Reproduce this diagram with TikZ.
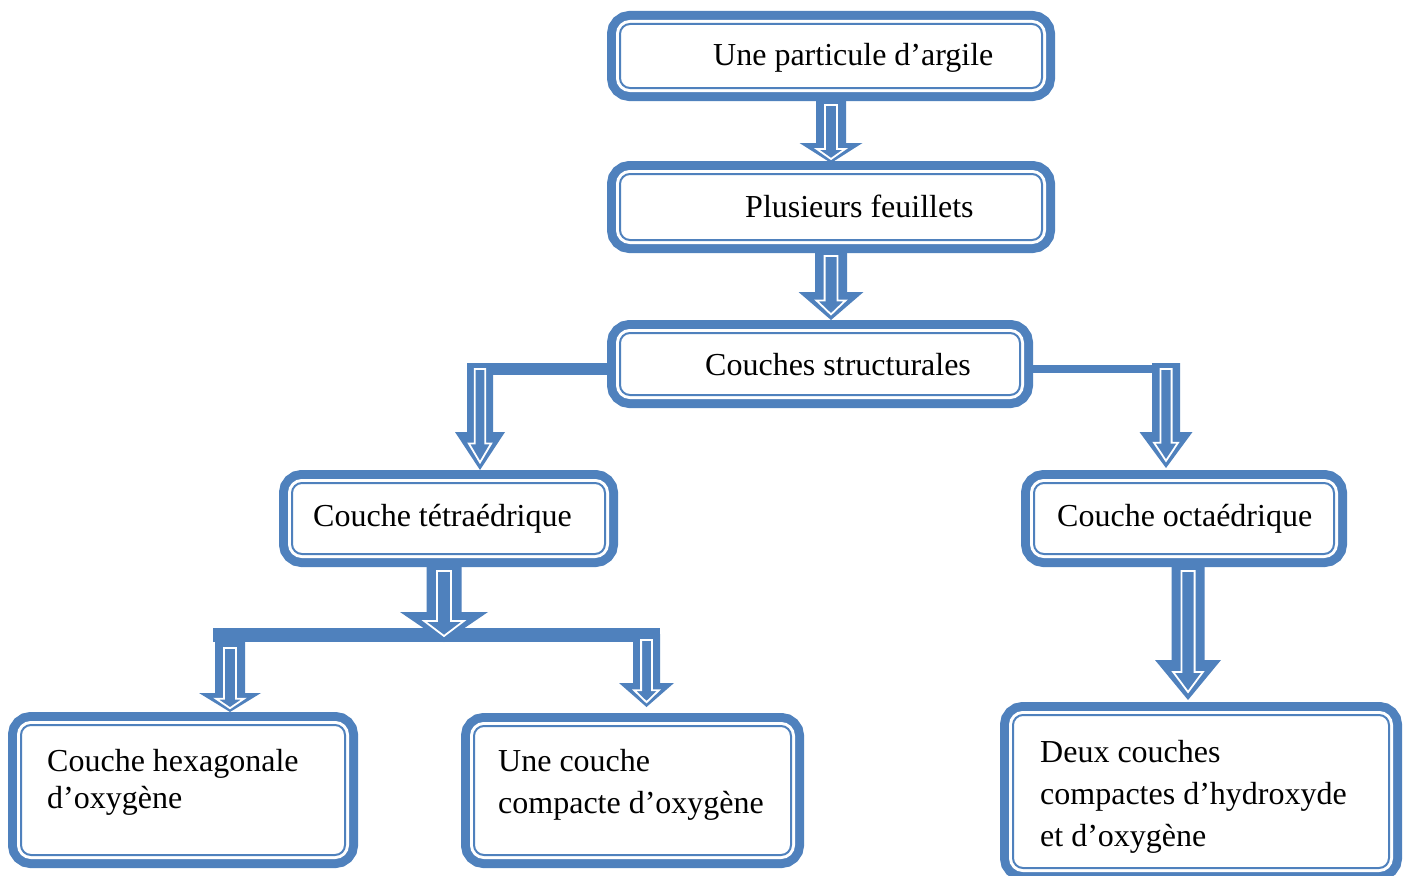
\documentclass[tikz,border=0pt]{standalone}
\usepackage{fontspec}
\setmainfont{Liberation Serif}
\usetikzlibrary{calc}
\definecolor{cblue}{RGB}{79,129,189}
\tikzset{
  box/.style={rectangle, rounded corners=10, outer sep=0, inner sep=0,
    preaction={draw=cblue, line width=26, rounded corners=10},
    fill=white, draw=white, line width=8,
    postaction={draw=cblue, line width=2, rounded corners=10}},
  lbl/.style={anchor=base west, inner sep=0, font=\fontsize{32}{42}\selectfont},
  inarrow/.style={draw=white, line width=1.8, line join=miter},
  barfill/.style={fill=cblue},
}
% #1 top coordinate, #2 tip coordinate, #3 shaft half width, #4 head half width, #5 head length
\newcommand\blockarr[5]{%
  \fill[cblue] ($(#1)+(-#3,0)$) -- ($(#1)+(#3,0)$) -- ($(#2)+(#3,-#5)$) -- ($(#2)+(#4,-#5)$) -- (#2)
     -- ($(#2)+(-#4,-#5)$) -- ($(#2)+(-#3,-#5)$) -- cycle;
  \draw[inarrow] ($(#1)+({-0.4*#3},6)$) -- ($(#1)+({0.4*#3},6)$) -- ($(#2)+({0.4*#3},{-0.7*#5})$)
     -- ($(#2)+({0.45*#4},{-0.7*#5})$) -- ($(#2)+(0,{-0.2*#5})$) -- ($(#2)+({-0.45*#4},{-0.7*#5})$)
     -- ($(#2)+({-0.4*#3},{-0.7*#5})$) -- cycle;
}
\begin{document}
\begin{tikzpicture}[x=1pt,y=-1pt]
\useasboundingbox (0,0) rectangle (1410,875);
\fill[white] (0,0) rectangle (1410,875);
\clip (0,0) rectangle (1410,875);

% connector end points
\coordinate (a1top) at (831,99);   \coordinate (a1tip) at (831,163);
\coordinate (a2top) at (831,250);  \coordinate (a2tip) at (831,320);
\coordinate (lbtop) at (480,363);  \coordinate (lbtip) at (480,470);
\coordinate (rbtop) at (1166,363); \coordinate (rbtip) at (1166,468);
\coordinate (tetop) at (444,565);  \coordinate (tetip) at (444,642);
\coordinate (octop) at (1188,565); \coordinate (octip) at (1188,700);
\coordinate (bltop) at (230,642);  \coordinate (bltip) at (230,712);
\coordinate (brtop) at (646.5,634);\coordinate (brtip) at (646.5,707);

% connectors (drawn first, boxes cover their ends)
\blockarr{a1top}{a1tip}{15}{31.5}{20}
\blockarr{a2top}{a2tip}{16}{32.5}{28}
\fill[barfill] (467,363) rectangle (640,375);
\blockarr{lbtop}{lbtip}{13}{25}{38}
\fill[barfill] (1000,365) rectangle (1152,373);
\blockarr{rbtop}{rbtip}{14}{26.5}{36}
\fill[barfill] (213,628) rectangle (660,642);
\blockarr{tetop}{tetip}{17.5}{44}{30}
\blockarr{octop}{octip}{16.5}{33}{40}
\blockarr{bltop}{bltip}{15}{31}{19}
\blockarr{brtop}{brtip}{13.5}{27.5}{24}

% boxes
\node[box, minimum width=422, minimum height=64] (b1) at (831,56) {};
\node[box, minimum width=422, minimum height=66] (b2) at (831,207) {};
\node[box, minimum width=400, minimum height=62] (b3) at (820,364) {};
\node[box, minimum width=313, minimum height=71] (b4) at (448.5,518.5) {};
\node[box, minimum width=300, minimum height=71] (b5) at (1184,518.5) {};
\node[box, minimum width=324, minimum height=130] (b6) at (183,790) {};
\node[box, minimum width=317, minimum height=129] (b7) at (632.5,790.5) {};
\node[box, minimum width=376, minimum height=153] (b8) at (1201,791.5) {};

% texts
\node[lbl] (t1) at (713,66) {Une particule d’argile};
\node[lbl] (t2) at (745,217) {Plusieurs feuillets};
\node[lbl] (t3) at (705,375) {Couches structurales};
\node[lbl] (t4) at (313,526) {Couche tétraédrique};
\node[lbl] (t5) at (1057,526) {Couche octaédrique};
\node[lbl] (t6a) at (47,771) {Couche hexagonale};
\node[lbl] (t6b) at (47,808) {d’oxygène};
\node[lbl] (t7a) at (498,771) {Une couche};
\node[lbl] (t7b) at (498,813) {compacte d’oxygène};
\node[lbl] (t8a) at (1040,762) {Deux couches};
\node[lbl] (t8b) at (1040,804) {compactes d’hydroxyde};
\node[lbl] (t8c) at (1040,846) {et d’oxygène};
\end{tikzpicture}
\end{document}
